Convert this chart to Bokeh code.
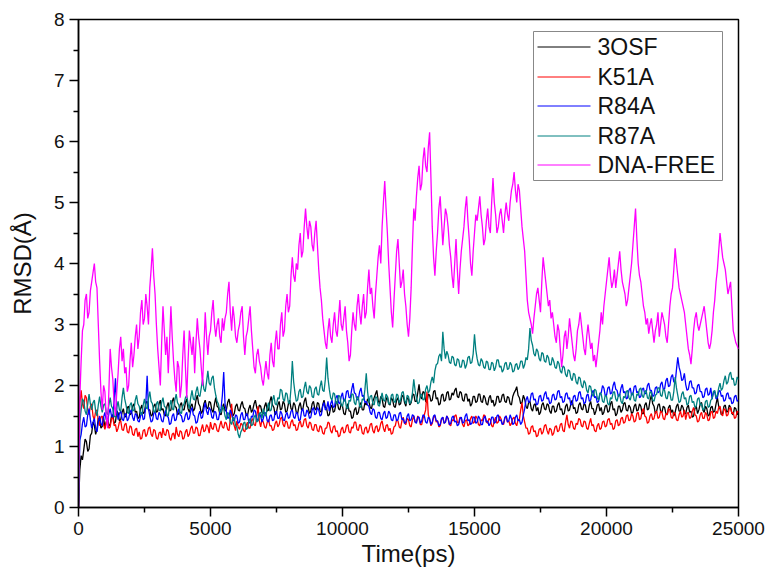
from bokeh.plotting import figure
from bokeh.models import Range1d, FixedTicker, BoxAnnotation, Arrow, Label
from bokeh.embed import file_html
from bokeh.resources import INLINE

# Time axis (ps), one sample every 50 ps
time_ps = list(range(0, 25001, 50))

series_names = ["3OSF", "K51A", "R84A", "R87A", "DNA-FREE"]
series_colors = ["#000000", "#ff0000", "#0000ff", "#008080", "#ff00ff"]

x_ticks = [0, 5000, 10000, 15000, 20000, 25000]
y_ticks = [0, 1, 2, 3, 4, 5, 6, 7, 8]

rmsd_3osf = [
    0.00, 0.62, 0.85, 0.78, 0.95, 1.12, 1.08, 0.92, 0.96, 1.18, 1.22, 1.40, 1.35, 1.20, 1.28, 1.46, 1.44, 1.30, 1.33, 1.48,
    1.30, 1.40, 1.46, 1.34, 1.36, 1.50, 1.52, 1.38, 1.40, 1.58, 1.55, 1.42, 1.44, 1.56, 1.62, 1.48, 1.50, 1.64, 1.66, 1.52,
    1.54, 1.66, 1.70, 1.56, 1.58, 1.46, 1.48, 1.62, 1.68, 1.54, 1.56, 1.72, 1.74, 1.60, 1.60, 1.50, 1.52, 1.66, 1.70, 1.56,
    1.58, 1.70, 1.76, 1.60, 1.62, 1.52, 1.50, 1.66, 1.72, 1.58, 1.60, 1.74, 1.80, 1.66, 1.64, 1.52, 1.54, 1.68, 1.72, 1.60,
    1.60, 1.72, 1.78, 1.62, 1.56, 1.66, 1.70, 1.58, 1.62, 1.76, 1.84, 1.70, 1.66, 1.54, 1.58, 1.70, 1.76, 1.64, 1.62, 1.74,
    1.72, 1.60, 1.56, 1.70, 1.80, 1.66, 1.64, 1.54, 1.52, 1.64, 1.70, 1.58, 1.60, 1.72, 1.78, 1.66, 1.62, 1.50, 1.54, 1.66,
    1.70, 1.60, 1.58, 1.68, 1.74, 1.64, 1.62, 1.52, 1.50, 1.62, 1.68, 1.56, 1.60, 1.70, 1.76, 1.64, 1.58, 1.68, 1.66, 1.56,
    1.54, 1.66, 1.72, 1.58, 1.60, 1.74, 1.82, 1.68, 1.64, 1.52, 1.56, 1.68, 1.74, 1.60, 1.62, 1.74, 1.70, 1.56, 1.58, 1.70,
    1.76, 1.62, 1.60, 1.72, 1.68, 1.56, 1.54, 1.66, 1.72, 1.60, 1.62, 1.74, 1.80, 1.66, 1.64, 1.54, 1.58, 1.70, 1.74, 1.62,
    1.60, 1.72, 1.70, 1.58, 1.56, 1.68, 1.76, 1.64, 1.62, 1.50, 1.52, 1.64, 1.68, 1.56, 1.58, 1.70, 1.74, 1.62, 1.60, 1.70,
    1.66, 1.54, 1.52, 1.64, 1.70, 1.58, 1.58, 1.46, 1.48, 1.60, 1.64, 1.52, 1.56, 1.68, 1.72, 1.60, 1.60, 1.72, 1.68, 1.78,
    1.74, 1.64, 1.62, 1.74, 1.80, 1.86, 1.92, 1.76, 1.70, 1.82, 1.78, 1.66, 1.64, 1.76, 1.82, 1.70, 1.68, 1.80, 1.76, 1.66,
    1.64, 1.76, 1.80, 1.68, 1.70, 1.82, 1.84, 1.72, 1.66, 1.80, 1.78, 1.68, 1.72, 1.84, 1.86, 1.74, 1.74, 1.88, 2.02, 1.82,
    1.78, 1.90, 1.88, 1.74, 1.72, 1.86, 1.84, 1.74, 1.76, 1.90, 1.92, 1.78, 1.80, 1.68, 1.70, 1.84, 1.86, 1.74, 1.76, 1.88,
    1.90, 1.76, 1.78, 1.88, 1.84, 1.92, 1.96, 1.82, 1.80, 1.90, 1.88, 1.76, 1.74, 1.86, 1.86, 1.74, 1.78, 1.66, 1.70, 1.82,
    1.82, 1.72, 1.74, 1.86, 1.86, 1.74, 1.72, 1.84, 1.80, 1.70, 1.68, 1.80, 1.84, 1.72, 1.76, 1.66, 1.70, 1.82, 1.82, 1.72,
    1.74, 1.84, 1.86, 1.74, 1.72, 1.82, 1.80, 1.70, 1.68, 1.82, 1.88, 1.92, 1.98, 1.84, 1.80, 1.70, 1.72, 1.84, 1.78, 1.66,
    1.62, 1.72, 1.74, 1.62, 1.58, 1.68, 1.70, 1.58, 1.64, 1.52, 1.56, 1.68, 1.72, 1.62, 1.60, 1.70, 1.68, 1.58, 1.54, 1.66,
    1.66, 1.56, 1.58, 1.68, 1.72, 1.60, 1.62, 1.52, 1.54, 1.66, 1.70, 1.58, 1.60, 1.70, 1.76, 1.62, 1.64, 1.54, 1.56, 1.68,
    1.72, 1.62, 1.60, 1.70, 1.68, 1.56, 1.56, 1.68, 1.74, 1.62, 1.62, 1.52, 1.58, 1.68, 1.70, 1.58, 1.64, 1.52, 1.56, 1.66,
    1.68, 1.56, 1.58, 1.70, 1.74, 1.60, 1.62, 1.50, 1.54, 1.66, 1.66, 1.56, 1.60, 1.70, 1.72, 1.60, 1.58, 1.68, 1.64, 1.54,
    1.56, 1.66, 1.70, 1.58, 1.60, 1.70, 1.66, 1.54, 1.54, 1.68, 1.72, 1.60, 1.62, 1.76, 1.84, 1.70, 1.66, 1.54, 1.58, 1.68,
    1.70, 1.58, 1.56, 1.66, 1.64, 1.54, 1.52, 1.64, 1.68, 1.56, 1.60, 1.50, 1.56, 1.66, 1.70, 1.58, 1.58, 1.68, 1.64, 1.54,
    1.54, 1.64, 1.68, 1.56, 1.58, 1.48, 1.50, 1.62, 1.66, 1.54, 1.60, 1.70, 1.72, 1.60, 1.56, 1.66, 1.62, 1.50, 1.52, 1.64,
    1.66, 1.56, 1.58, 1.70, 1.80, 1.66, 1.62, 1.52, 1.54, 1.66, 1.68, 1.56, 1.58, 1.68, 1.64, 1.54, 1.52, 1.64, 1.62, 1.52,
    1.58,
]

rmsd_k51a = [
    0.00, 1.70, 1.92, 1.70, 1.62, 1.84, 1.80, 1.60, 1.52, 1.66, 1.70, 1.50, 1.44, 1.58, 1.60, 1.42, 1.34, 1.48, 1.50, 1.36,
    1.28, 1.40, 1.44, 1.30, 1.32, 1.46, 1.48, 1.34, 1.36, 1.24, 1.30, 1.40, 1.42, 1.28, 1.26, 1.36, 1.38, 1.24, 1.22, 1.34,
    1.32, 1.20, 1.18, 1.28, 1.30, 1.16, 1.24, 1.12, 1.14, 1.26, 1.28, 1.16, 1.20, 1.30, 1.32, 1.20, 1.16, 1.28, 1.26, 1.14,
    1.12, 1.22, 1.24, 1.14, 1.30, 1.20, 1.18, 1.28, 1.26, 1.14, 1.10, 1.20, 1.22, 1.12, 1.32, 1.20, 1.16, 1.26, 1.24, 1.12,
    1.14, 1.24, 1.28, 1.16, 1.20, 1.30, 1.34, 1.22, 1.22, 1.32, 1.30, 1.18, 1.18, 1.28, 1.36, 1.24, 1.26, 1.36, 1.32, 1.22,
    1.40, 1.30, 1.28, 1.38, 1.36, 1.26, 1.24, 1.34, 1.42, 1.32, 1.30, 1.40, 1.38, 1.28, 1.26, 1.44, 1.70, 1.40, 1.34, 1.26,
    1.42, 1.32, 1.28, 1.38, 1.36, 1.26, 1.24, 1.34, 1.40, 1.30, 1.30, 1.42, 1.46, 1.36, 1.34, 1.48, 1.66, 1.42, 1.32, 1.44,
    1.40, 1.32, 1.30, 1.40, 1.44, 1.34, 1.34, 1.26, 1.28, 1.38, 1.42, 1.32, 1.36, 1.46, 1.48, 1.36, 1.32, 1.42, 1.40, 1.30,
    1.30, 1.40, 1.44, 1.34, 1.36, 1.26, 1.28, 1.38, 1.42, 1.32, 1.34, 1.44, 1.46, 1.34, 1.30, 1.40, 1.38, 1.28, 1.26, 1.36,
    1.36, 1.26, 1.24, 1.34, 1.32, 1.22, 1.20, 1.30, 1.30, 1.40, 1.38, 1.26, 1.22, 1.32, 1.34, 1.24, 1.26, 1.16, 1.18, 1.28,
    1.32, 1.22, 1.24, 1.34, 1.36, 1.24, 1.22, 1.32, 1.30, 1.40, 1.40, 1.28, 1.26, 1.36, 1.34, 1.22, 1.20, 1.30, 1.32, 1.22,
    1.26, 1.36, 1.38, 1.26, 1.22, 1.32, 1.34, 1.24, 1.28, 1.38, 1.42, 1.30, 1.24, 1.34, 1.36, 1.26, 1.30, 1.20, 1.22, 1.32,
    1.34, 1.44, 1.42, 1.32, 1.30, 1.42, 1.48, 1.38, 1.36, 1.46, 1.44, 1.34, 1.32, 1.44, 1.50, 1.40, 1.40, 1.50, 1.46, 1.36,
    1.36, 1.46, 1.52, 1.60, 1.90, 1.52, 1.44, 1.34, 1.38, 1.48, 1.50, 1.40, 1.42, 1.32, 1.34, 1.44, 1.48, 1.38, 1.40, 1.50,
    1.46, 1.36, 1.34, 1.44, 1.42, 1.50, 1.52, 1.40, 1.38, 1.48, 1.46, 1.36, 1.32, 1.42, 1.44, 1.34, 1.36, 1.46, 1.50, 1.38,
    1.40, 1.50, 1.46, 1.36, 1.34, 1.44, 1.42, 1.52, 1.50, 1.40, 1.38, 1.46, 1.44, 1.34, 1.32, 1.42, 1.48, 1.38, 1.40, 1.50,
    1.46, 1.38, 1.36, 1.46, 1.50, 1.40, 1.42, 1.34, 1.38, 1.46, 1.48, 1.38, 1.34, 1.44, 1.44, 1.60, 1.72, 1.50, 1.40, 1.30,
    1.30, 1.20, 1.22, 1.32, 1.34, 1.24, 1.26, 1.16, 1.18, 1.28, 1.30, 1.20, 1.24, 1.34, 1.36, 1.26, 1.20, 1.30, 1.28, 1.18,
    1.22, 1.32, 1.34, 1.24, 1.26, 1.36, 1.38, 1.26, 1.24, 1.40, 1.52, 1.36, 1.30, 1.42, 1.40, 1.30, 1.28, 1.38, 1.36, 1.46,
    1.44, 1.34, 1.32, 1.42, 1.40, 1.30, 1.28, 1.38, 1.46, 1.34, 1.36, 1.26, 1.24, 1.34, 1.38, 1.28, 1.30, 1.40, 1.42, 1.32,
    1.34, 1.44, 1.46, 1.36, 1.38, 1.28, 1.30, 1.42, 1.44, 1.34, 1.36, 1.46, 1.48, 1.38, 1.40, 1.50, 1.52, 1.42, 1.44, 1.54,
    1.50, 1.40, 1.42, 1.54, 1.56, 1.44, 1.46, 1.58, 1.62, 1.50, 1.48, 1.38, 1.40, 1.50, 1.54, 1.44, 1.46, 1.56, 1.58, 1.46,
    1.48, 1.58, 1.56, 1.46, 1.44, 1.54, 1.52, 1.62, 1.60, 1.48, 1.46, 1.56, 1.54, 1.44, 1.42, 1.52, 1.58, 1.48, 1.50, 1.60,
    1.44, 1.54, 1.56, 1.46, 1.48, 1.58, 1.64, 1.52, 1.50, 1.40, 1.42, 1.52, 1.56, 1.46, 1.46, 1.56, 1.52, 1.42, 1.44, 1.56,
    1.58, 1.46, 1.48, 1.58, 1.54, 1.64, 1.66, 1.54, 1.50, 1.62, 1.60, 1.50, 1.52, 1.62, 1.64, 1.54, 1.56, 1.46, 1.48, 1.58,
    1.56,
]

rmsd_r84a = [
    0.00, 1.10, 1.20, 1.38, 1.48, 1.32, 1.34, 1.52, 1.62, 1.44, 1.30, 1.40, 1.46, 1.30, 1.24, 1.40, 1.50, 1.38, 1.34, 1.48,
    1.56, 1.44, 1.40, 1.54, 1.62, 1.50, 1.48, 1.76, 2.12, 1.60, 1.44, 1.54, 1.58, 1.46, 1.42, 1.52, 1.54, 1.42, 1.46, 1.56,
    1.60, 1.48, 1.42, 1.54, 1.52, 1.42, 1.40, 1.50, 1.56, 1.44, 1.46, 1.70, 2.16, 1.62, 1.50, 1.40, 1.42, 1.54, 1.58, 1.46,
    1.44, 1.56, 1.52, 1.42, 1.40, 1.52, 1.60, 1.50, 1.48, 1.36, 1.38, 1.50, 1.54, 1.42, 1.44, 1.56, 1.62, 1.52, 1.50, 1.40,
    1.42, 1.52, 1.56, 1.44, 1.46, 1.58, 1.64, 1.52, 1.50, 1.38, 1.40, 1.52, 1.58, 1.46, 1.48, 1.62, 1.72, 1.58, 1.52, 1.64,
    1.60, 1.48, 1.46, 1.58, 1.56, 1.44, 1.44, 1.56, 1.62, 1.84, 2.22, 1.70, 1.58, 1.46, 1.48, 1.60, 1.54, 1.44, 1.42, 1.52,
    1.50, 1.38, 1.40, 1.52, 1.56, 1.44, 1.44, 1.54, 1.52, 1.40, 1.38, 1.50, 1.48, 1.60, 1.58, 1.46, 1.42, 1.54, 1.50, 1.40,
    1.46, 1.56, 1.54, 1.42, 1.40, 1.50, 1.52, 1.42, 1.44, 1.56, 1.58, 1.46, 1.46, 1.58, 1.54, 1.44, 1.42, 1.52, 1.56, 1.46,
    1.48, 1.58, 1.60, 1.48, 1.46, 1.56, 1.54, 1.42, 1.44, 1.58, 1.62, 1.50, 1.50, 1.60, 1.56, 1.46, 1.48, 1.60, 1.64, 1.52,
    1.54, 1.64, 1.60, 1.50, 1.52, 1.66, 1.72, 1.60, 1.62, 1.74, 1.58, 1.70, 1.76, 1.64, 1.66, 1.80, 1.84, 1.72, 1.70, 1.82,
    1.88, 1.74, 1.76, 1.90, 1.92, 1.80, 1.80, 1.94, 2.04, 1.88, 1.86, 1.76, 1.78, 1.90, 1.96, 1.82, 1.84, 1.72, 1.74, 1.68,
    1.66, 1.56, 1.52, 1.62, 1.60, 1.48, 1.46, 1.56, 1.56, 1.46, 1.44, 1.54, 1.58, 1.46, 1.48, 1.58, 1.54, 1.44, 1.42, 1.52,
    1.52, 1.42, 1.44, 1.54, 1.56, 1.44, 1.46, 1.38, 1.40, 1.50, 1.54, 1.42, 1.44, 1.52, 1.50, 1.40, 1.38, 1.48, 1.48, 1.38,
    1.42, 1.52, 1.50, 1.40, 1.38, 1.48, 1.46, 1.36, 1.40, 1.50, 1.52, 1.42, 1.42, 1.34, 1.36, 1.46, 1.48, 1.38, 1.40, 1.50,
    1.46, 1.36, 1.38, 1.48, 1.50, 1.40, 1.42, 1.34, 1.36, 1.46, 1.48, 1.38, 1.40, 1.50, 1.54, 1.42, 1.44, 1.36, 1.38, 1.48,
    1.48, 1.38, 1.40, 1.50, 1.46, 1.36, 1.36, 1.46, 1.50, 1.40, 1.42, 1.34, 1.38, 1.48, 1.48, 1.38, 1.40, 1.50, 1.52, 1.42,
    1.44, 1.36, 1.38, 1.48, 1.50, 1.40, 1.42, 1.52, 1.46, 1.36, 1.38, 1.48, 1.52, 1.42, 1.44, 1.36, 1.40, 1.52, 1.62, 1.76,
    1.82, 1.72, 1.74, 1.86, 1.88, 1.76, 1.78, 1.68, 1.70, 1.82, 1.84, 1.74, 1.76, 1.86, 1.90, 1.78, 1.80, 1.70, 1.72, 1.84,
    1.86, 1.76, 1.78, 1.90, 1.92, 1.80, 1.82, 1.72, 1.74, 1.86, 1.88, 1.78, 1.80, 1.68, 1.70, 1.82, 1.84, 1.74, 1.76, 1.88,
    1.90, 1.78, 1.80, 1.70, 1.72, 1.84, 1.86, 1.74, 1.76, 1.88, 1.92, 1.80, 1.82, 1.72, 1.74, 1.86, 1.88, 2.00, 1.96, 1.84,
    1.84, 1.96, 1.98, 1.86, 1.88, 2.00, 2.06, 1.94, 1.92, 1.82, 1.84, 1.96, 2.02, 1.88, 1.90, 1.78, 1.80, 1.92, 1.96, 1.84,
    1.86, 1.98, 2.00, 1.88, 1.90, 1.80, 1.82, 1.94, 1.96, 1.86, 1.88, 2.00, 2.04, 1.92, 1.92, 1.82, 1.84, 1.96, 1.98, 1.88,
    1.90, 2.02, 2.06, 1.94, 1.94, 2.08, 2.12, 1.98, 2.00, 2.14, 2.18, 2.06, 2.04, 2.26, 2.46, 2.30, 2.22, 2.08, 2.10, 2.20,
    2.02, 1.92, 1.94, 2.06, 2.08, 1.96, 1.96, 1.86, 1.88, 2.00, 2.02, 1.90, 1.90, 1.80, 1.82, 1.94, 1.96, 1.84, 1.86, 1.96,
    1.78, 1.88, 1.90, 1.78, 1.80, 1.90, 1.92, 1.82, 1.84, 1.74, 1.76, 1.86, 1.88, 1.78, 1.80, 1.70, 1.72, 1.82, 1.84, 1.74,
    1.76,
]

rmsd_r87a = [
    0.00, 1.40, 1.60, 1.78, 1.74, 1.58, 1.52, 1.70, 1.86, 1.70, 1.60, 1.72, 1.76, 1.58, 1.50, 1.68, 1.82, 1.66, 1.56, 1.68,
    1.70, 1.56, 1.52, 1.68, 1.80, 1.66, 1.62, 1.50, 1.48, 1.64, 1.74, 1.60, 1.58, 1.80, 1.96, 1.78, 1.68, 1.56, 1.54, 1.68,
    1.72, 1.58, 1.60, 1.76, 1.84, 1.70, 1.66, 1.54, 1.52, 1.68, 1.78, 1.64, 1.62, 1.78, 1.90, 1.74, 1.70, 1.58, 1.56, 1.70,
    1.74, 1.60, 1.58, 1.72, 1.80, 1.66, 1.64, 1.52, 1.50, 1.66, 1.76, 1.62, 1.60, 1.76, 1.86, 1.72, 1.68, 1.56, 1.54, 1.66,
    1.70, 1.80, 1.84, 1.70, 1.62, 1.80, 1.92, 1.78, 1.76, 1.90, 1.98, 1.84, 1.82, 1.96, 2.10, 1.94, 1.90, 2.06, 2.24, 2.04,
    2.00, 2.12, 2.16, 1.96, 1.84, 1.74, 1.70, 1.58, 1.56, 1.66, 1.62, 1.50, 1.44, 1.56, 1.52, 1.40, 1.36, 1.48, 1.46, 1.34,
    1.32, 1.20, 1.14, 1.24, 1.28, 1.38, 1.40, 1.28, 1.30, 1.42, 1.46, 1.34, 1.36, 1.48, 1.52, 1.40, 1.42, 1.54, 1.56, 1.46,
    1.62, 1.52, 1.50, 1.64, 1.72, 1.58, 1.60, 1.76, 1.84, 1.70, 1.68, 1.80, 1.78, 1.94, 1.92, 1.78, 1.74, 1.88, 1.86, 1.72,
    1.70, 1.96, 2.40, 2.06, 1.88, 1.74, 1.76, 1.90, 1.94, 1.80, 1.82, 1.96, 2.06, 1.90, 1.86, 2.00, 1.96, 1.82, 1.80, 1.94,
    1.98, 1.86, 1.84, 1.98, 2.08, 1.92, 1.90, 2.10, 2.46, 2.12, 1.94, 1.80, 1.76, 1.88, 1.86, 1.72, 1.70, 1.84, 1.82, 1.68,
    1.66, 1.76, 1.78, 1.64, 1.62, 1.76, 1.74, 1.86, 1.86, 1.72, 1.68, 1.82, 1.80, 1.66, 1.64, 1.78, 1.76, 1.94, 2.20, 1.90,
    1.72, 1.82, 1.84, 1.70, 1.68, 1.82, 1.80, 1.68, 1.66, 1.78, 1.88, 1.76, 1.74, 1.86, 1.82, 1.70, 1.70, 1.84, 1.86, 1.74,
    1.72, 1.86, 1.84, 1.72, 1.76, 1.88, 1.90, 1.76, 1.70, 1.84, 1.82, 1.70, 1.74, 1.88, 2.10, 1.92, 1.80, 1.70, 1.72, 1.84,
    1.86, 1.76, 1.78, 1.94, 2.00, 1.88, 1.92, 2.06, 2.14, 2.04, 2.24, 2.34, 2.36, 2.48, 2.52, 2.40, 2.88, 2.60, 2.44, 2.56,
    2.50, 2.38, 2.36, 2.48, 2.46, 2.34, 2.32, 2.44, 2.42, 2.30, 2.30, 2.42, 2.40, 2.28, 2.34, 2.46, 2.48, 2.36, 2.38, 2.52,
    2.84, 2.58, 2.44, 2.34, 2.32, 2.44, 2.40, 2.30, 2.28, 2.40, 2.38, 2.26, 2.26, 2.38, 2.36, 2.24, 2.30, 2.42, 2.42, 2.30,
    2.32, 2.22, 2.26, 2.36, 2.38, 2.26, 2.28, 2.38, 2.34, 2.22, 2.24, 2.34, 2.36, 2.26, 2.30, 2.40, 2.40, 2.28, 2.34, 2.46,
    2.42, 2.60, 2.94, 2.74, 2.66, 2.52, 2.48, 2.60, 2.56, 2.44, 2.40, 2.54, 2.52, 2.40, 2.38, 2.50, 2.46, 2.34, 2.34, 2.46,
    2.40, 2.30, 2.28, 2.40, 2.36, 2.24, 2.20, 2.32, 2.30, 2.18, 2.14, 2.26, 2.24, 2.12, 2.08, 2.20, 2.18, 2.06, 2.02, 2.14,
    2.12, 2.00, 1.96, 2.08, 2.04, 1.92, 1.88, 2.00, 1.98, 1.86, 1.82, 1.94, 1.92, 1.80, 1.76, 1.88, 1.86, 1.74, 1.72, 1.84,
    1.82, 1.70, 1.68, 1.80, 1.78, 1.88, 1.90, 1.78, 1.74, 1.84, 1.86, 1.74, 1.70, 1.82, 1.80, 1.90, 1.92, 1.80, 1.76, 1.86,
    1.88, 1.76, 1.74, 1.86, 1.84, 1.94, 1.96, 1.84, 1.80, 1.90, 1.92, 1.80, 1.78, 1.90, 1.88, 1.76, 1.74, 1.84, 1.86, 1.96,
    1.96, 1.84, 1.82, 1.94, 1.92, 1.80, 1.78, 1.90, 1.88, 1.76, 1.76, 1.90, 2.14, 1.96, 1.84, 1.72, 1.74, 1.86, 1.90, 1.78,
    1.80, 1.68, 1.70, 1.82, 1.84, 1.72, 1.74, 1.64, 1.66, 1.78, 1.80, 1.68, 1.70, 1.60, 1.62, 1.74, 1.76, 1.64, 1.66, 1.76,
    1.78, 1.90, 1.92, 1.80, 1.84, 1.96, 2.04, 1.92, 1.96, 2.08, 2.16, 2.02, 2.06, 2.18, 2.22, 2.10, 2.12, 2.00, 2.02, 2.14,
    2.10,
]

rmsd_dna_free = [
    0.00, 1.80, 2.40, 2.90, 3.00, 3.40, 3.50, 3.10, 3.20, 3.55, 3.70, 3.85, 4.00, 3.70, 3.60, 3.00, 2.40, 1.90, 1.60, 2.00,
    1.90, 1.50, 1.30, 1.90, 2.60, 2.30, 2.10, 1.70, 1.50, 1.90, 2.20, 2.60, 2.80, 2.40, 2.60, 2.20, 2.30, 1.90, 2.00, 2.40,
    2.70, 2.30, 2.50, 2.80, 3.00, 2.60, 2.80, 3.20, 3.40, 3.00, 3.10, 3.50, 3.30, 3.00, 3.60, 3.90, 4.25, 3.80, 3.50, 3.00,
    2.60, 2.30, 2.00, 2.70, 3.30, 2.90, 2.50, 2.80, 2.20, 2.70, 3.30, 2.80, 2.40, 2.10, 1.90, 2.40, 2.30, 1.80, 2.00, 2.50,
    2.90, 2.30, 1.80, 2.40, 2.90, 2.70, 2.50, 2.80, 2.20, 2.70, 3.10, 2.80, 2.60, 2.30, 2.00, 2.60, 3.20, 2.80, 2.50, 2.80,
    2.90, 3.20, 3.40, 3.00, 2.80, 3.00, 3.10, 2.80, 2.70, 3.10, 2.90, 3.10, 3.20, 3.50, 3.70, 3.20, 2.90, 3.30, 3.10, 2.80,
    2.70, 2.90, 3.00, 3.20, 3.30, 2.80, 2.50, 2.80, 2.90, 3.10, 3.30, 2.90, 2.60, 2.30, 2.20, 2.50, 2.60, 2.40, 2.30, 2.10,
    2.00, 2.20, 2.40, 2.20, 2.10, 2.50, 2.70, 2.40, 2.30, 2.70, 2.90, 2.60, 2.60, 3.00, 3.20, 2.80, 2.90, 3.30, 3.50, 3.20,
    3.30, 3.80, 4.10, 3.80, 3.70, 4.00, 3.90, 4.30, 4.50, 4.10, 4.20, 4.60, 4.90, 4.60, 4.40, 4.70, 4.60, 4.30, 4.20, 4.50,
    4.70, 4.30, 3.90, 3.60, 3.40, 3.10, 2.90, 2.70, 2.60, 2.90, 3.10, 2.80, 2.70, 3.00, 3.20, 2.90, 2.80, 3.10, 3.40, 3.00,
    2.90, 3.10, 3.30, 2.90, 2.70, 2.40, 2.50, 2.90, 3.20, 3.00, 2.90, 3.30, 3.50, 3.20, 3.00, 3.30, 3.50, 3.10, 3.20, 3.60,
    3.90, 3.50, 3.60, 3.30, 3.10, 3.50, 3.80, 4.10, 4.30, 4.00, 4.60, 5.00, 5.35, 4.90, 4.50, 4.00, 3.60, 3.20, 2.95, 3.40,
    3.80, 4.20, 4.40, 4.00, 3.60, 3.70, 3.90, 3.50, 3.30, 3.00, 2.80, 3.10, 3.60, 4.30, 4.90, 4.70, 5.10, 5.40, 5.60, 5.20,
    5.30, 5.70, 5.90, 5.60, 5.50, 5.90, 6.15, 5.40, 4.60, 4.10, 3.80, 4.20, 4.50, 4.90, 5.10, 4.70, 4.30, 4.60, 4.90, 4.80,
    4.60, 4.30, 4.10, 3.80, 3.60, 4.00, 4.40, 3.90, 3.50, 3.90, 4.20, 4.40, 4.60, 4.90, 5.10, 4.70, 4.40, 4.00, 3.80, 4.20,
    4.50, 4.80, 4.70, 4.90, 5.10, 4.80, 4.60, 4.30, 4.40, 4.70, 4.90, 4.60, 4.50, 5.00, 5.40, 5.00, 4.80, 4.50, 4.60, 4.80,
    4.90, 4.70, 4.50, 4.80, 5.00, 4.80, 4.70, 5.00, 5.20, 5.30, 5.50, 5.20, 5.00, 5.30, 5.20, 4.90, 4.60, 4.40, 4.20, 3.80,
    3.40, 3.20, 3.10, 3.00, 2.85, 3.10, 3.30, 3.50, 3.60, 3.40, 3.20, 3.70, 4.10, 3.90, 3.70, 3.50, 3.30, 3.40, 3.10, 3.20,
    3.00, 2.80, 2.70, 3.00, 2.90, 2.60, 2.30, 2.50, 2.80, 2.90, 2.60, 2.80, 3.10, 2.90, 2.70, 2.50, 2.40, 2.60, 2.90, 3.00,
    3.20, 3.00, 2.80, 2.60, 2.50, 2.80, 3.00, 2.80, 2.60, 2.70, 2.40, 2.50, 2.30, 2.50, 2.70, 2.90, 3.20, 3.00, 3.30, 3.50,
    3.70, 3.90, 4.10, 3.80, 3.60, 3.70, 3.90, 3.60, 3.80, 4.00, 4.20, 3.90, 3.70, 3.60, 3.50, 3.30, 3.40, 3.60, 3.80, 4.00,
    4.30, 4.60, 4.90, 4.40, 4.00, 3.80, 3.70, 3.50, 3.30, 3.20, 3.00, 3.10, 2.85, 3.00, 3.10, 2.90, 2.70, 2.90, 3.00, 3.20,
    2.80, 3.00, 3.20, 3.10, 3.00, 2.80, 2.70, 3.00, 3.30, 3.50, 3.60, 3.90, 4.25, 4.00, 3.80, 3.60, 3.50, 3.40, 3.30, 3.20,
    3.00, 2.80, 2.60, 2.50, 2.35, 2.60, 2.90, 3.10, 3.20, 3.00, 2.90, 3.00, 3.10, 3.20, 3.30, 3.10, 2.90, 2.70, 2.60, 2.70,
    2.90, 3.20, 3.40, 3.70, 3.90, 4.20, 4.50, 4.30, 4.10, 4.00, 3.90, 3.70, 3.50, 3.60, 3.70, 3.30, 2.90, 2.80, 2.70, 2.65,
    2.60,
]

all_series = [rmsd_3osf, rmsd_k51a, rmsd_r84a, rmsd_r87a, rmsd_dna_free]

FONT = "Liberation Sans"

p = figure(
    width=766, height=569,
    x_range=Range1d(0, 25000), y_range=Range1d(0, 8),
    output_backend="svg", toolbar_location=None,
    min_border_left=78, min_border_right=28,
    min_border_top=19, min_border_bottom=62,
    background_fill_color="white", border_fill_color="white",
)
p.grid.visible = False
p.outline_line_color = "black"
p.outline_line_width = 1.5
p.outline_line_alpha = 1.0

for ax in (p.xaxis[0], p.yaxis[0]):
    ax.axis_line_width = 1.5
    ax.axis_line_color = "black"
    ax.major_tick_line_width = 1.5
    ax.minor_tick_line_width = 1.5
    ax.major_tick_line_color = "black"
    ax.minor_tick_line_color = "black"
    ax.major_tick_in = 0
    ax.major_tick_out = 9
    ax.minor_tick_in = 0
    ax.minor_tick_out = 5
    ax.major_label_text_font = FONT
    ax.major_label_text_font_size = "19px"
    ax.major_label_text_color = "#111111"
    ax.axis_label_text_font = FONT
    ax.axis_label_text_font_size = "24px"
    ax.axis_label_text_font_style = "normal"
    ax.axis_label_text_color = "#111111"

p.xaxis.ticker = FixedTicker(ticks=x_ticks, minor_ticks=[2500, 7500, 12500, 17500, 22500])
p.yaxis.ticker = FixedTicker(ticks=y_ticks, minor_ticks=[0.5, 1.5, 2.5, 3.5, 4.5, 5.5, 6.5, 7.5])
p.xaxis.major_label_standoff = 5
p.yaxis.major_label_standoff = 5
p.xaxis.axis_label = "Time(ps)"
p.yaxis.axis_label = "RMSD(Å)"
p.xaxis.axis_label_standoff = 2
p.yaxis.axis_label_standoff = 15

for name, color, ys in zip(series_names, series_colors, all_series):
    p.line(time_ps, ys, line_color=color, line_width=1.3)

# Legend (drawn as annotations; screen units measured from the frame's bottom-left)
p.add_layout(BoxAnnotation(
    left=455, right=644, bottom=327, top=476,
    left_units="screen", right_units="screen", top_units="screen", bottom_units="screen",
    fill_color="white", fill_alpha=1.0, line_color="#888888", line_width=1, line_alpha=1.0,
))
legend_sy = [460.5, 430.5, 401.5, 371.5, 342.5]
for name, color, sy in zip(series_names, series_colors, legend_sy):
    p.add_layout(Arrow(
        end=None, x_start=459, y_start=sy, x_end=512, y_end=sy,
        start_units="screen", end_units="screen",
        line_color=color, line_width=1.0,
    ))
    p.add_layout(Label(
        x=519, y=sy, x_units="screen", y_units="screen", text=name,
        text_font=FONT, text_font_size="23px", text_color="#111111",
        text_baseline="middle", text_align="left",
    ))

open("out.html", "w").write(file_html(p, INLINE))
